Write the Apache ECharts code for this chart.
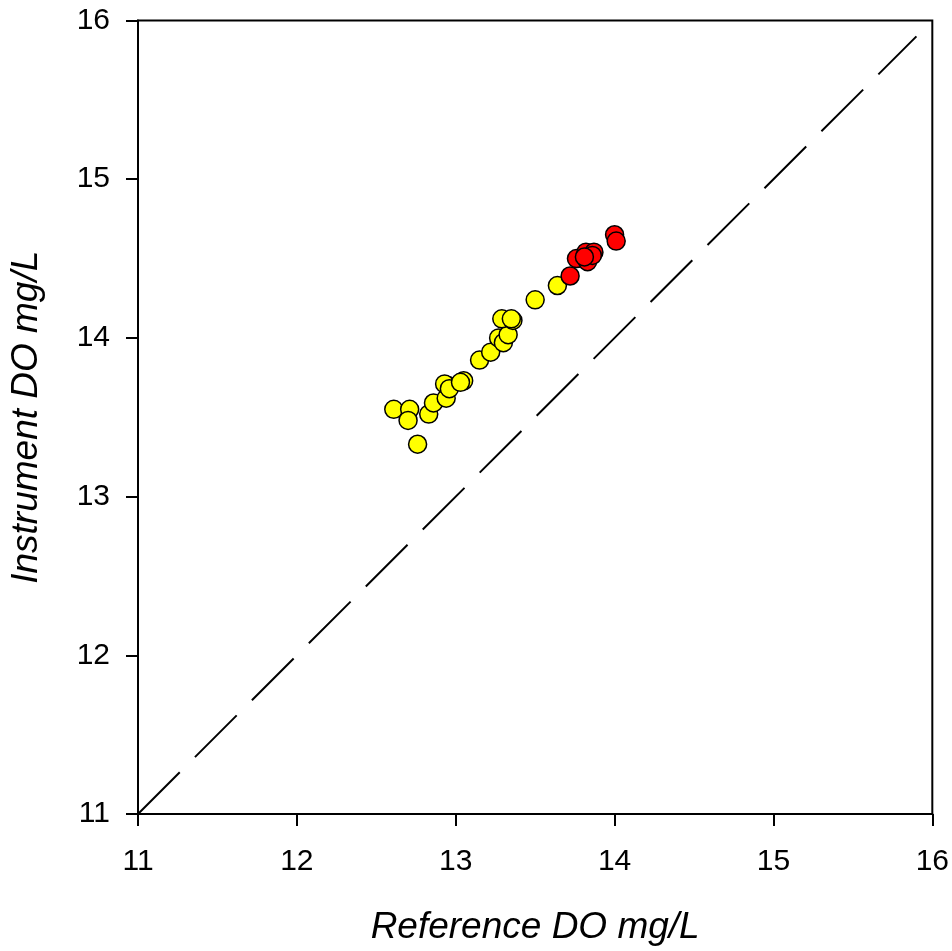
<!DOCTYPE html>
<html>
<head>
<meta charset="utf-8">
<script src="https://cdn.jsdelivr.net/npm/echarts@6/dist/echarts.min.js"></script>
<style>
html,body{margin:0;padding:0;background:#fff;}
#chart{width:952px;height:951px;}
</style>
</head>
<body>
<div id="chart"></div>
<script>
// Yellow points [reference, instrument]
var yellowPoints = [
  [12.61, 13.55], [12.71, 13.55], [12.70, 13.48], [12.76, 13.33],
  [12.83, 13.52], [12.86, 13.59], [12.94, 13.62], [12.95, 13.70],
  [12.93, 13.71], [12.96, 13.68], [13.05, 13.73], [13.03, 13.72],
  [13.15, 13.86], [13.22, 13.91], [13.27, 14.00], [13.30, 13.97],
  [13.33, 14.02], [13.29, 14.12], [13.36, 14.11], [13.35, 14.12],
  [13.50, 14.24], [13.64, 14.33]
];
// Red points
var redPoints = [
  [13.72, 14.39], [13.76, 14.50], [13.82, 14.54], [13.83, 14.48],
  [13.87, 14.54], [13.86, 14.52], [13.81, 14.51], [14.00, 14.65],
  [14.01, 14.61]
];
// 1:1 reference line
var oneToOne = [[11, 11], [15.9, 15.9]];
var axisMin = 11, axisMax = 16, axisStep = 1;
var xTitle = 'Reference DO mg/L';
var yTitle = 'Instrument DO mg/L';

var font = 'Liberation Sans, Arial, sans-serif';
var chart = echarts.init(document.getElementById('chart'));
function axis(name, gap, labelMargin) {
  return {
    type: 'value', min: axisMin, max: axisMax, interval: axisStep,
    name: name, nameLocation: 'middle', nameGap: gap,
    nameTextStyle: {fontFamily: font, fontSize: 37, fontStyle: 'italic', color: '#000'},
    axisLine: {show: true, onZero: false, lineStyle: {color: '#000', width: 2}},
    axisTick: {show: true, inside: false, length: 12, lineStyle: {color: '#000', width: 2}},
    axisLabel: {fontFamily: font, fontSize: 30, color: '#000', margin: labelMargin},
    splitLine: {show: false}
  };
}
var xa = axis(xTitle, 95, 33);
var ya = axis(yTitle, 93, 28);
chart.setOption({
  animation: false,
  backgroundColor: '#fff',
  grid: {left: 137.5, right: 19, top: 20.5, bottom: 132, show: true, borderColor: '#000', borderWidth: 2, backgroundColor: '#fff'},
  xAxis: xa,
  yAxis: ya,
  series: [
    {type: 'line', data: oneToOne, symbol: 'none', silent: true,
     lineStyle: {color: '#000', width: 2, type: [59, 21.5]}},
    {type: 'scatter', data: yellowPoints, symbol: 'circle', symbolSize: 18,
     itemStyle: {color: '#FFFF00', borderColor: '#000', borderWidth: 1.5, opacity: 1}},
    {type: 'scatter', data: redPoints, symbol: 'circle', symbolSize: 18,
     itemStyle: {color: '#FF0000', borderColor: '#000', borderWidth: 1.5, opacity: 1}}
  ]
});
</script>
</body>
</html>
